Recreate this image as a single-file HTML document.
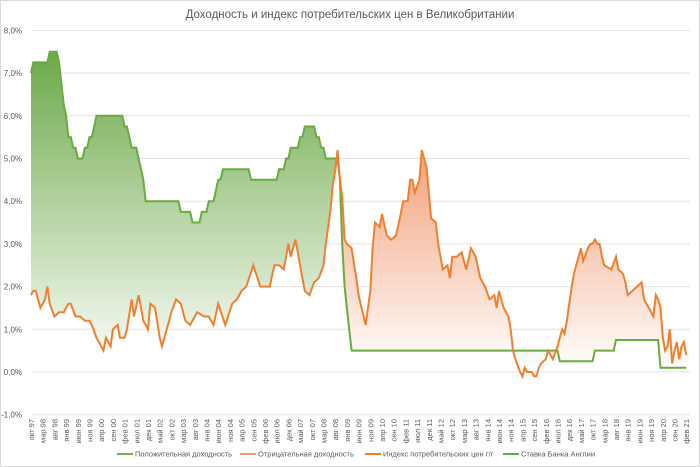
<!DOCTYPE html>
<html><head><meta charset="utf-8"><style>
body{margin:0;background:#fff;}
svg{display:block;font-family:"Liberation Sans",sans-serif;}
</style></head><body>
<svg id="s" width="700" height="467" xmlns="http://www.w3.org/2000/svg">
<defs>
<linearGradient id="gg" gradientUnits="userSpaceOnUse" x1="0" y1="30" x2="0" y2="372">
<stop offset="0" stop-color="#62a33c"/><stop offset="1" stop-color="#ffffff"/></linearGradient>
<linearGradient id="go" gradientUnits="userSpaceOnUse" x1="0" y1="140" x2="0" y2="372">
<stop offset="0" stop-color="#f29c74"/><stop offset="1" stop-color="#ffffff"/></linearGradient>
</defs>
<rect x="0.5" y="0.5" width="699" height="466" fill="#fff" stroke="#d9d9d9"/>
<text x="350" y="18" text-anchor="middle" font-size="11.5" fill="#595959">Доходность и индекс потребительских цен в Великобритании</text>
<g id="g"></g>
</svg>
<script>
const X0=31,DX=2.34,Y0=372,K=42.7;
const x=m=>X0+m*DX, y=v=>Y0-v*K;
const mi=s=>{const [a,b]=s.split('.').map(Number);return (a-1997)*12+(b-10);};
const N=280;
function interp(kp){const p=kp.map(([s,v])=>[mi(s),v]);const out=[];for(let m=0;m<=N;m++){let i=0;while(i<p.length-2&&p[i+1][0]<m)i++;const [a,va]=p[i],[b,vb]=p[i+1];let t=(m-a)/(b-a);t=Math.max(0,Math.min(1,t));out.push(va+(vb-va)*t);}return out;}
function step(ch){const p=ch.map(([s,v])=>[mi(s),v]);const out=[];for(let m=0;m<=N;m++){let v=p[0][1];for(const q of p)if(q[0]<=m)v=q[1];out.push(v);}return out;}
const rate=step([['1997.10',7.0],['1997.11',7.25],['1998.6',7.5],['1998.10',7.25],['1998.11',6.75],['1998.12',6.25],['1999.1',6.0],['1999.2',5.5],['1999.4',5.25],['1999.6',5.0],['1999.9',5.25],['1999.11',5.5],['2000.1',5.75],['2000.2',6.0],['2001.2',5.75],['2001.4',5.5],['2001.5',5.25],['2001.8',5.0],['2001.9',4.75],['2001.10',4.5],['2001.11',4.0],['2003.2',3.75],['2003.7',3.5],['2003.11',3.75],['2004.2',4.0],['2004.5',4.25],['2004.6',4.5],['2004.8',4.75],['2005.8',4.5],['2006.8',4.75],['2006.11',5.0],['2007.1',5.25],['2007.5',5.5],['2007.7',5.75],['2007.12',5.5],['2008.2',5.25],['2008.4',5.0],['2008.10',4.5],['2008.11',3.0],['2008.12',2.0],['2009.1',1.5],['2009.2',1.0],['2009.3',0.5],['2016.8',0.25],['2017.11',0.5],['2018.8',0.75],['2020.3',0.1]]);
const cpi=interp([['1997.10',1.8],['1997.11',1.9],['1997.12',1.9],['1998.2',1.5],['1998.4',1.7],['1998.5',2.0],['1998.6',1.6],['1998.8',1.3],['1998.10',1.4],['1998.12',1.4],['1999.2',1.6],['1999.3',1.6],['1999.5',1.3],['1999.7',1.3],['1999.9',1.2],['1999.11',1.2],['1999.12',1.1],['2000.2',0.8],['2000.4',0.6],['2000.5',0.5],['2000.6',0.8],['2000.8',0.6],['2000.9',1.0],['2000.11',1.1],['2000.12',0.8],['2001.2',0.8],['2001.3',1.0],['2001.5',1.7],['2001.6',1.3],['2001.8',1.8],['2001.10',1.2],['2001.12',1.0],['2002.1',1.6],['2002.3',1.5],['2002.5',0.8],['2002.6',0.6],['2002.8',1.0],['2002.10',1.4],['2002.12',1.7],['2003.2',1.6],['2003.4',1.2],['2003.6',1.1],['2003.9',1.4],['2003.12',1.3],['2004.2',1.3],['2004.4',1.1],['2004.6',1.6],['2004.9',1.1],['2004.12',1.6],['2005.2',1.7],['2005.4',1.9],['2005.6',2.0],['2005.9',2.5],['2005.12',2.0],['2006.2',2.0],['2006.4',2.0],['2006.6',2.5],['2006.8',2.5],['2006.10',2.4],['2006.12',3.0],['2007.1',2.7],['2007.3',3.1],['2007.5',2.5],['2007.7',1.9],['2007.9',1.8],['2007.11',2.1],['2008.1',2.2],['2008.3',2.5],['2008.4',3.0],['2008.6',3.8],['2008.7',4.4],['2008.8',4.7],['2008.9',5.2],['2008.10',4.5],['2008.11',4.1],['2008.12',3.1],['2009.1',3.0],['2009.3',2.9],['2009.5',2.2],['2009.6',1.8],['2009.9',1.1],['2009.10',1.5],['2009.11',1.9],['2009.12',2.9],['2010.1',3.5],['2010.3',3.4],['2010.4',3.7],['2010.6',3.2],['2010.8',3.1],['2010.10',3.2],['2010.12',3.7],['2011.1',4.0],['2011.3',4.0],['2011.4',4.5],['2011.5',4.5],['2011.6',4.2],['2011.8',4.5],['2011.9',5.2],['2011.10',5.0],['2011.11',4.8],['2011.12',4.2],['2012.1',3.6],['2012.3',3.5],['2012.4',3.0],['2012.6',2.4],['2012.8',2.5],['2012.9',2.2],['2012.10',2.7],['2012.12',2.7],['2013.2',2.8],['2013.4',2.4],['2013.6',2.9],['2013.8',2.7],['2013.10',2.2],['2013.12',2.0],['2014.2',1.7],['2014.4',1.8],['2014.5',1.5],['2014.6',1.9],['2014.8',1.5],['2014.10',1.3],['2014.11',1.0],['2014.12',0.5],['2015.1',0.3],['2015.3',0.0],['2015.4',-0.1],['2015.5',0.1],['2015.6',0.0],['2015.8',0.0],['2015.9',-0.1],['2015.10',-0.1],['2015.11',0.1],['2015.12',0.2],['2016.2',0.3],['2016.3',0.5],['2016.5',0.3],['2016.7',0.6],['2016.9',1.0],['2016.10',0.9],['2016.11',1.2],['2016.12',1.6],['2017.2',2.3],['2017.4',2.7],['2017.5',2.9],['2017.6',2.6],['2017.8',2.9],['2017.9',3.0],['2017.10',3.0],['2017.11',3.1],['2017.12',3.0],['2018.1',3.0],['2018.2',2.7],['2018.3',2.5],['2018.6',2.4],['2018.8',2.7],['2018.9',2.4],['2018.11',2.3],['2018.12',2.1],['2019.1',1.8],['2019.3',1.9],['2019.5',2.0],['2019.7',2.1],['2019.8',1.7],['2019.10',1.5],['2019.12',1.3],['2020.1',1.8],['2020.2',1.7],['2020.3',1.5],['2020.4',0.8],['2020.5',0.5],['2020.6',0.6],['2020.7',1.0],['2020.8',0.2],['2020.9',0.5],['2020.10',0.7],['2020.11',0.3],['2020.12',0.6],['2021.1',0.7],['2021.2',0.4]]);
let h='';
for(let v=-1;v<=8;v++){const yy=y(v);h+=`<line x1="${X0}" x2="690" y1="${yy}" y2="${yy}" stroke="#e3e3e3" stroke-width="1"/>`;h+=`<text x="22" y="${yy+3}" text-anchor="end" font-size="8" fill="#595959">${v.toFixed(1).replace('.',',')}%</text>`;}
function poly(top,bot){let p=[];for(let m=0;m<=N;m++)p.push(x(m).toFixed(1)+','+y(top[m]).toFixed(1));for(let m=N;m>=0;m--)p.push(x(m).toFixed(1)+','+y(bot[m]).toFixed(1));return p.join(' ');}
const mn=rate.map((r,i)=>Math.min(r,cpi[i]));
h+=`<polygon points="${poly(rate,mn)}" fill="url(#gg)"/>`;
h+=`<polygon points="${poly(cpi,mn)}" fill="url(#go)"/>`;
const line=a=>a.map((v,m)=>x(m).toFixed(1)+','+y(v).toFixed(1)).join(' ');
h+=`<polyline points="${line(rate)}" fill="none" stroke="#6aab3f" stroke-width="2"/>`;
h+=`<polyline points="${line(cpi)}" fill="none" stroke="#f0802f" stroke-width="2"/>`;
const mo=['янв','фев','мар','апр','май','июн','июл','авг','сен','окт','ноя','дек'];
for(let m=0;m<=N;m+=5){const mm=(9+m)%12,yr=(97+Math.floor((9+m)/12))%100;const t=mo[mm]+' '+String(yr).padStart(2,'0');const xx=x(m)+3;h+=`<text transform="translate(${xx.toFixed(1)},419) rotate(-90)" text-anchor="end" font-size="7.5" fill="#595959">${t}</text>`;}
const lg=[[117,'#79b04a','Положительная доходность'],[240,'#f29a73','Отрицательная доходность'],[365,'#f0802f','Индекс потребительских цен г/г'],[503,'#6aab3f','Ставка Банка Англии']];
for(const [lx,c,t] of lg){h+=`<line x1="${lx}" x2="${lx+16}" y1="454" y2="454" stroke="${c}" stroke-width="2"/><text x="${lx+18}" y="456.5" font-size="7.5" fill="#595959">${t}</text>`;}
document.getElementById('g').innerHTML=h;
</script>
</body></html>
